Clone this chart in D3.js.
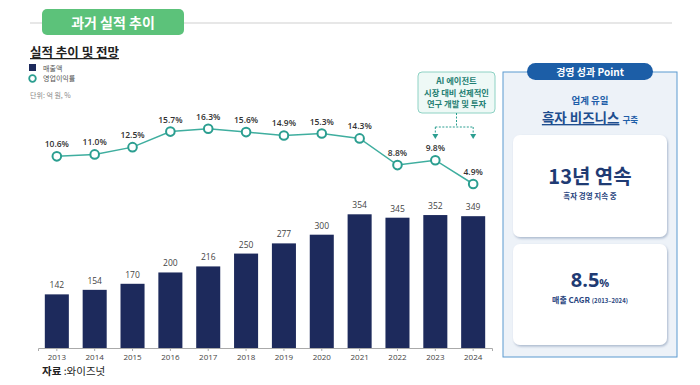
<!DOCTYPE html>
<html><head><meta charset="utf-8">
<script src="https://cdn.jsdelivr.net/npm/d3@7"></script>
<style>
html,body{margin:0;padding:0;background:#fff;}
svg{display:block;font-family:"Noto Sans CJK KR","Noto Sans",sans-serif;}
</style></head>
<body><svg id="c" width="700" height="385"></svg>
<script>
const years = ["2013","2014","2015","2016","2017","2018","2019","2020","2021","2022","2023","2024"];
const sales = [142,154,170,200,216,250,277,300,354,345,352,349];
const margin = [10.6,11.0,12.5,15.7,16.3,15.6,14.9,15.3,14.3,8.8,9.8,4.9];
const annotationLines = ["AI 에이전트","시장 대비 선제적인","연구 개발 및 투자"];
const annotatedYears = ["2023","2024"];

const svg = d3.select("#c");
const navy = "#1d2a5c", teal = "#2b9e90", tealLine = "#3fae9f";

// header
svg.append("line").attr("x1",30).attr("x2",672).attr("y1",23).attr("y2",23).attr("stroke","#cfcfcf").attr("stroke-width",1);
svg.append("rect").attr("x",42).attr("y",9).attr("width",142).attr("height",26).attr("rx",5).attr("fill","#5cc27a");
svg.append("text").attr("x",113).attr("y",27.5).attr("text-anchor","middle").attr("fill","#fff").attr("font-size",14).attr("font-weight",700).text("과거 실적 추이");

// title & legend
svg.append("text").attr("x",30).attr("y",57).attr("font-size",12.5).attr("font-weight",700).attr("fill","#222").attr("text-decoration","underline").text("실적 추이 및 전망");
svg.append("rect").attr("x",29).attr("y",64).attr("width",7).attr("height",7).attr("fill",navy);
svg.append("text").attr("x",43).attr("y",70.5).attr("font-size",7).attr("fill","#555").text("매출액");
svg.append("circle").attr("cx",32.5).attr("cy",78.5).attr("r",3.3).attr("fill","#fff").attr("stroke",teal).attr("stroke-width",1.8);
svg.append("text").attr("x",43).attr("y",81).attr("font-size",7).attr("fill","#555").text("영업이익률");
svg.append("text").attr("x",30).attr("y",98).attr("font-size",7).attr("fill","#888").text("단위: 억 원, %");

// scales
const x = d3.scaleBand().domain(years).range([38,492]).paddingInner(0.365).paddingOuter(0.18);
const yBar = d3.scaleLinear().domain([0,354]).range([348,214.3]);
const yLine = d3.scaleLinear().domain([4.9,16.3]).range([184,128.7]);
const cx = d => x(d)+x.bandwidth()/2;

// bars
svg.append("g").selectAll("rect").data(years).join("rect")
  .attr("x",d=>x(d)).attr("width",x.bandwidth())
  .attr("y",(d,i)=>yBar(sales[i])).attr("height",(d,i)=>yBar(0)-yBar(sales[i]))
  .attr("fill",navy);
svg.append("g").selectAll("text").data(years).join("text")
  .attr("x",cx).attr("y",(d,i)=>yBar(sales[i])-6).attr("text-anchor","middle")
  .attr("font-size",8.5).attr("fill","#444").attr("font-family","'Open Sans',sans-serif").text((d,i)=>sales[i]);

// axis
const ax = svg.append("g").attr("transform","translate(0,348)").call(d3.axisBottom(x).tickSize(3).tickPadding(3));
ax.select(".domain").attr("stroke","#aaa");
ax.selectAll(".tick line").attr("stroke","#aaa");
ax.selectAll(".tick text").attr("font-size",8).attr("fill","#444").attr("font-family","'Open Sans',sans-serif");

// line
const line = d3.line().x(d=>cx(d)).y((d,i)=>yLine(margin[i]));
svg.append("path").datum(years).attr("d",line).attr("fill","none").attr("stroke",tealLine).attr("stroke-width",1.5);
svg.append("g").selectAll("circle").data(years).join("circle")
  .attr("cx",cx).attr("cy",(d,i)=>yLine(margin[i])).attr("r",4.3)
  .attr("fill","#fff").attr("stroke",teal).attr("stroke-width",2);
svg.append("g").selectAll("text").data(years).join("text")
  .attr("x",cx).attr("y",(d,i)=>yLine(margin[i])-9).attr("text-anchor","middle")
  .attr("font-size",8.5).attr("font-weight",600).attr("fill","#333").attr("font-family","'Open Sans',sans-serif")
  .text((d,i)=>margin[i].toFixed(1)+"%");

// annotation
svg.append("rect").attr("x",418).attr("y",72).attr("width",77).attr("height",41).attr("rx",4)
  .attr("fill","#eef9f6").attr("stroke","#8ed2c4").attr("stroke-width",1);
annotationLines.forEach((t,i)=>{
  svg.append("text").attr("x",456.5).attr("y",84+i*11.5).attr("text-anchor","middle")
    .attr("font-size",8.3).attr("font-weight",700).attr("fill","#1f7f73").text(t);
});
const ax1 = cx(annotatedYears[0]), ax2 = cx(annotatedYears[1]);
const dash = "2,1.5";
svg.append("line").attr("x1",456.5).attr("x2",456.5).attr("y1",113).attr("y2",127).attr("stroke",teal).attr("stroke-dasharray",dash);
svg.append("line").attr("x1",ax1).attr("x2",ax2).attr("y1",127).attr("y2",127).attr("stroke",teal).attr("stroke-dasharray",dash);
[ax1,ax2].forEach(v=>{
  svg.append("line").attr("x1",v).attr("x2",v).attr("y1",127).attr("y2",134).attr("stroke",teal).attr("stroke-dasharray",dash);
  svg.append("path").attr("d",`M${v-3},${134}L${v+3},${134}L${v},${139}Z`).attr("fill",teal);
});

// right panel
svg.append("rect").attr("x",503).attr("y",72).attr("width",174).attr("height",285).attr("fill","#edf2f8").attr("stroke","#5b9ad0").attr("stroke-width",1);
svg.append("rect").attr("x",527).attr("y",63).attr("width",126).attr("height",17).attr("rx",8.5).attr("fill","#1c5ea7");
svg.append("text").attr("x",590).attr("y",75.5).attr("text-anchor","middle").attr("fill","#fff").attr("font-size",10).attr("font-weight",700).text("경영 성과 Point");
svg.append("text").attr("x",590).attr("y",104).attr("text-anchor","middle").attr("fill","#1f5ea8").attr("font-size",9.5).attr("font-weight",700).text("업계 유일");
const t2 = svg.append("text").attr("x",590).attr("y",123).attr("text-anchor","middle").attr("fill","#1f5ea8").attr("font-weight",700);
t2.append("tspan").attr("font-size",13.5).attr("text-decoration","underline").attr("fill","#1e4e8f").text("흑자 비즈니스");
t2.append("tspan").attr("font-size",8.5).attr("dx",3).text("구축");

const defs = svg.append("defs");
const f = defs.append("filter").attr("id","sh").attr("x","-10%").attr("y","-10%").attr("width","120%").attr("height","125%");
f.append("feDropShadow").attr("dx",1).attr("dy",1.5).attr("stdDeviation",1.2).attr("flood-color","#7f93b0").attr("flood-opacity",0.6);

[[135,102],[244,101]].forEach(([y,h])=>{
  svg.append("rect").attr("x",513).attr("y",y).attr("width",154).attr("height",h).attr("rx",7).attr("fill","#fff").attr("filter","url(#sh)");
});
svg.append("text").attr("x",590).attr("y",184).attr("text-anchor","middle").attr("fill","#1f3b73").attr("font-size",20).attr("font-weight",700).text("13년 연속");
svg.append("text").attr("x",590).attr("y",199).attr("text-anchor","middle").attr("fill","#2a4680").attr("font-size",7.5).attr("font-weight",700).text("흑자 경영 지속 중");
const t3 = svg.append("text").attr("x",590).attr("y",287).attr("text-anchor","middle").attr("fill","#1f3b73").attr("font-weight",700);
t3.append("tspan").attr("font-size",20).attr("font-family","'Open Sans',sans-serif").text("8.5");
t3.append("tspan").attr("font-size",11).attr("font-family","'Open Sans',sans-serif").text("%");
const t4 = svg.append("text").attr("x",590).attr("y",303).attr("text-anchor","middle").attr("fill","#2a4680").attr("font-weight",700);
t4.append("tspan").attr("font-size",8).text("매출 CAGR ");
t4.append("tspan").attr("font-size",6).text("(2013–2024)");

// source
const s = svg.append("text").attr("x",42).attr("y",375).attr("font-size",10.5).attr("fill","#222");
s.append("tspan").attr("font-weight",700).text("자료");
s.append("tspan").text(" :와이즈넛");
</script></body></html>
